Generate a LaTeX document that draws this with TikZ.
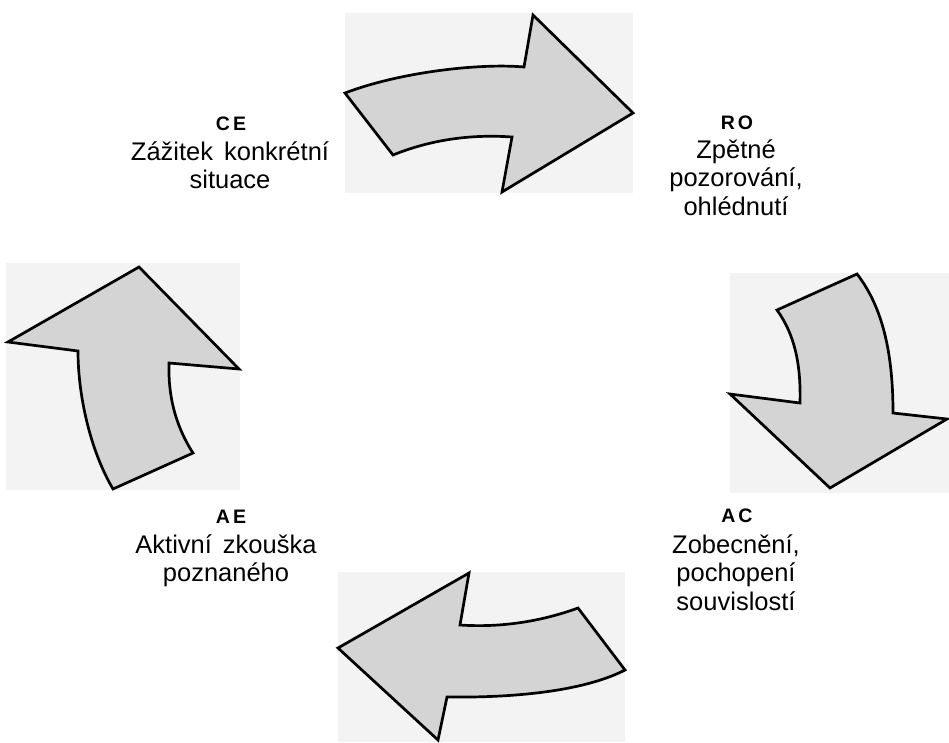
\documentclass[tikz,border=0pt]{standalone}
\usepackage{fontspec}
\setmainfont{Liberation Sans}
\definecolor{patchgray}{HTML}{F3F3F3}
\definecolor{arrowgray}{HTML}{D4D4D4}
\tikzset{
  patch/.style={fill=patchgray, draw=none},
  arrowshape/.style={fill=arrowgray, draw=black, line width=2.7pt, line join=miter},
  hdr/.style={font=\fontsize{19.5}{22}\selectfont\bfseries, anchor=base, inner sep=0pt},
  body/.style={font=\fontsize{25.5}{28.5}\selectfont, align=center, anchor=north, inner sep=0pt}
}
\newcommand{\firstline}{\rule{0pt}{24pt}}
\begin{document}
\begin{tikzpicture}[x=1pt, y=-1pt]
  \useasboundingbox (0,0) rectangle (949,742);
  \fill[white] (0,0) rectangle (949,742);

  % light backgrounds behind the four arrows
  \fill[patch] (345,13) rectangle (633,193);
  \fill[patch] (730,273) rectangle (949,493);
  \fill[patch] (6,263) rectangle (240,490);
  \fill[patch] (338,572) rectangle (625,742);

  % top arrow, pointing right
  \draw[arrowshape] (345,93) -- (393,155)
    .. controls (430,140) and (470,134) .. (512,137)
    -- (502,192) -- (633,113) -- (533,15) -- (524,67)
    .. controls (480,63) and (400,72) .. (345,93) -- cycle;

  % right arrow, pointing down
  \draw[arrowshape] (857,274) -- (777,310)
    .. controls (795,335) and (801,365) .. (800,403)
    -- (730,394) -- (830,488) -- (947,419) -- (893,413)
    .. controls (893,360) and (885,310) .. (857,274) -- cycle;

  % bottom arrow, pointing left
  \draw[arrowshape] (469,573) -- (460,625)
    .. controls (505,628) and (545,620) .. (578,608)
    -- (625,670)
    .. controls (588,689) and (525,698) .. (447,697)
    -- (438,740) -- (338,648) -- cycle;

  % left arrow, pointing up
  \draw[arrowshape] (139,267) -- (8,342) -- (78,351)
    .. controls (78,395) and (90,450) .. (113,489)
    -- (193,453)
    .. controls (175,425) and (168,395) .. (169,363)
    -- (239,369) -- cycle;

  % labels of the four stages
  \node[hdr] (ceH) at (231,130) {C\hspace{3pt}E};
  \node[body] (ce) at (230,136) {\firstline Zážitek\hspace{11pt}konkrétní\\situace};

  \node[hdr] (roH) at (737,129) {R\hspace{3pt}O};
  \node[body] (ro) at (736,134) {\firstline Zpětné\\pozorování,\\ohlédnutí};

  \node[hdr] (acH) at (737,522) {A\hspace{3pt}C};
  \node[body] (ac) at (736,529) {\firstline Zobecnění,\\pochopení\\souvislostí};

  \node[hdr] (aeH) at (231,523) {A\hspace{3pt}E};
  \node[body] (ae) at (226,529) {\firstline Aktivní\hspace{11pt}zkouška\\poznaného};
\end{tikzpicture}
\end{document}
